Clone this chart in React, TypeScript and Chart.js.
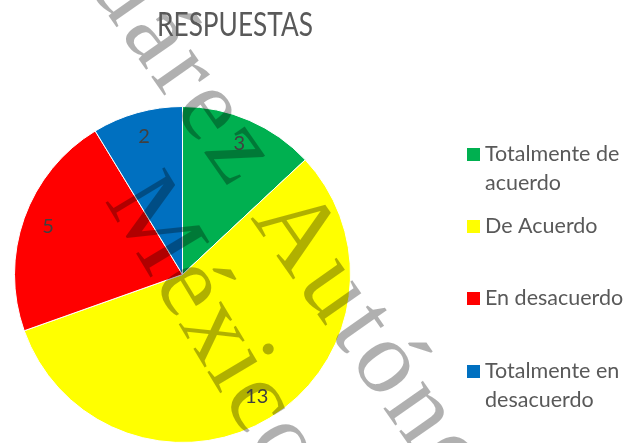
import React, { useEffect, useRef } from "react";
import { Chart, registerables } from "chart.js";

Chart.register(...registerables);

const chartTitle = "RESPUESTAS";
const categories = [
  ["Totalmente de", "acuerdo"],
  ["De Acuerdo"],
  ["En desacuerdo"],
  ["Totalmente en", "desacuerdo"],
];
const counts = [3, 13, 5, 2];
const sliceColors = ["#00B050", "#FFFF00", "#FF0000", "#0070C0"];
const watermarkLine1 = ["Juárez ", "Autónoma"];
const watermarkLine2 = "México";

const TEXT_GREY = "#595959";
const LABEL_GREY = "#404040";

const decorPlugin = {
  id: "decor",
  afterDatasetsDraw(chart: any) {
    const ctx = chart.ctx as CanvasRenderingContext2D;
    // watermark
    ctx.save();
    ctx.fillStyle = "rgba(0,0,0,0.31)";
    ctx.font = "105px 'Liberation Serif', 'DejaVu Serif', serif";
    ctx.textBaseline = "alphabetic";
    ctx.save();
    (ctx as any).letterSpacing = "5px";
    ctx.translate(250, 218);
    ctx.rotate((55 * Math.PI) / 180);
    ctx.textAlign = "right";
    ctx.fillText(watermarkLine1[0], 0, 0);
    ctx.textAlign = "left";
    ctx.fillText(watermarkLine1[1], 0, 0);
    ctx.restore();
    ctx.save();
    (ctx as any).letterSpacing = "2px";
    ctx.translate(104, 200);
    ctx.rotate((59 * Math.PI) / 180);
    ctx.textAlign = "left";
    ctx.fillText(watermarkLine2, 0, 0);
    ctx.restore();
    ctx.restore();

    // data labels
    const meta = chart.getDatasetMeta(0);
    ctx.save();
    ctx.fillStyle = LABEL_GREY;
    ctx.font = "20px Lato, 'Open Sans', sans-serif";
    ctx.textAlign = "center";
    ctx.textBaseline = "middle";
    meta.data.forEach((arc: any, i: number) => {
      const p = arc.getProps(["x", "y", "startAngle", "endAngle", "outerRadius"], true);
      const mid = (p.startAngle + p.endAngle) / 2;
      const r = p.outerRadius * 0.85;
      ctx.fillText(String(counts[i]), p.x + Math.cos(mid) * r, p.y + Math.sin(mid) * r);
    });
    ctx.restore();
  },
  afterDraw(chart: any) {
    const ctx = chart.ctx as CanvasRenderingContext2D;
    // title
    ctx.save();
    ctx.fillStyle = TEXT_GREY;
    ctx.font = "32px Lato, 'Open Sans', sans-serif";
    ctx.textAlign = "center";
    ctx.textBaseline = "alphabetic";
    ctx.translate(235, 36);
    ctx.scale(0.82, 1);
    ctx.fillText(chartTitle, 0, 0);
    ctx.restore();

    // legend
    ctx.save();
    ctx.font = "21.5px Lato, 'Open Sans', sans-serif";
    ctx.textAlign = "left";
    ctx.textBaseline = "alphabetic";
    const baselines = [161, 233, 305, 378];
    categories.forEach((lines, i) => {
      const b = baselines[i];
      ctx.fillStyle = sliceColors[i];
      ctx.fillRect(467, b - 13, 13, 13);
      ctx.fillStyle = TEXT_GREY;
      lines.forEach((ln, j) => ctx.fillText(ln, 485, b + j * 29));
    });
    ctx.restore();
  },
};

export default function App() {
  const ref = useRef<HTMLCanvasElement>(null);
  useEffect(() => {
    if (!ref.current) return;
    const chart = new Chart(ref.current, {
      type: "pie",
      data: {
        labels: categories.map((c) => c.join(" ")),
        datasets: [
          {
            data: counts,
            backgroundColor: sliceColors,
            borderColor: "#ffffff",
            borderWidth: 1,
          },
        ],
      },
      options: {
        responsive: false,
        animation: false,
        devicePixelRatio: 1,
        layout: { padding: { top: 106, left: 0, right: 260, bottom: 0 } },
        plugins: {
          legend: { display: false },
          title: { display: false },
          tooltip: { enabled: false },
        },
      },
      plugins: [decorPlugin],
    });
    return () => chart.destroy();
  }, []);
  return (
    <div style={{ position: "fixed", left: 0, top: 0, width: 625, height: 443, background: "#fff" }}>
      <canvas ref={ref} width={625} height={443} />
    </div>
  );
}
